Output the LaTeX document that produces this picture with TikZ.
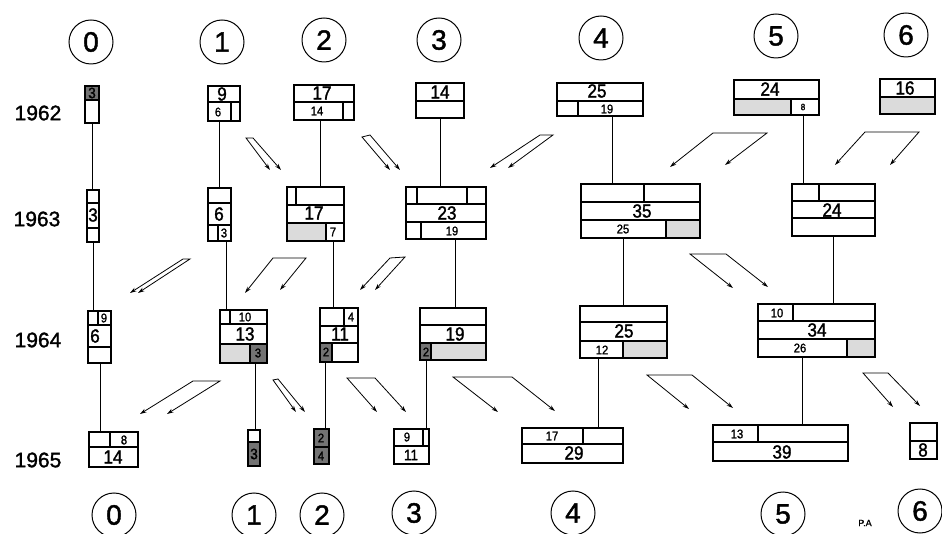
\documentclass[tikz,border=0pt]{standalone}
\usepackage{fontspec}
\setmainfont{Liberation Sans}
\newfontfamily\din{Liberation Sans}[FakeBold=1.5]
\newfontfamily\dinc{Liberation Sans}[FakeBold=1.5, FakeStretch=0.9]
\usetikzlibrary{arrows.meta}
\tikzset{
  box/.style={draw, line width=1.7pt, inner sep=0pt, outer sep=0pt, anchor=north west},
  div/.style={line width=1.1pt},
  link/.style={line width=0.8pt},
  pair/.style={line width=0.8pt, {Stealth[length=6.5pt,width=4pt]}-{Stealth[length=6.5pt,width=4pt]}},
  big/.style={inner sep=0pt, font=\dinc\fontsize{19}{19}\selectfont},
  mid/.style={inner sep=0pt, font=\dinc\fontsize{15}{15}\selectfont},
  small/.style={inner sep=0pt, font=\dinc\fontsize{12.5}{12.5}\selectfont},
  tiny/.style={inner sep=0pt, font=\dinc\fontsize{9}{9}\selectfont},
  colno/.style={draw, circle, line width=1pt, minimum size=44pt, inner sep=0pt, font=\din\fontsize{28}{28}\selectfont},
  year/.style={inner sep=0pt, font=\din\fontsize{21}{21}\selectfont},
  lite/.style={fill=black!14},
  dark/.style={fill=black!55},
}
% a framed cell block: name, left, top, right, bottom
\newcommand\bx[5]{\node[box, minimum width={(#4-#2)*1pt}, minimum height={(#5-#3)*1pt}] (#1) at (#2,#3) {};}
\begin{document}
\begin{tikzpicture}[x=1pt, y=-1pt]
\useasboundingbox (0,0) rectangle (942,534);

% column numbers
\foreach \n/\x/\y in {0/91/42, 1/222/42, 2/324/40, 3/439/40, 4/601/38, 5/776/36, 6/906/35}
  \node[colno] (top\n) at (\x,\y) {\n};
\foreach \n/\x/\y in {0/114/515, 1/254/515, 2/322/515, 3/414/513, 4/573/513, 5/783/514, 6/920/511}
  \node[colno] (bot\n) at (\x,\y) {\n};

% years
\node[year] (y62) at (38,113) {1962};
\node[year] (y63) at (37,219) {1963};
\node[year] (y64) at (38,340) {1964};
\node[year] (y65) at (38,460) {1965};

% shaded cells
\fill[dark] (85,86) rectangle (99,100);
\fill[lite] (220,344) rectangle (250,363);
\fill[dark] (250,344) rectangle (267,363);
\fill[dark] (248,442) rectangle (260,466);
\fill[lite] (287,223) rectangle (326,241);
\fill[dark] (320,343) rectangle (332,362);
\fill[dark] (314,429) rectangle (329,464);
\fill[lite] (431,343) rectangle (486,360);
\fill[dark] (420,343) rectangle (431,360);
\fill[lite] (666,220) rectangle (700,238);
\fill[lite] (623,341) rectangle (667,358);
\fill[lite] (734,99) rectangle (791,115);
\fill[lite] (847,339) rectangle (875,357);
\fill[lite] (880,97) rectangle (935,114);

% column 0
\bx{a0}{85}{86}{99}{123}
\draw[div] (85,100) -- (99,100);
\node[mid] (a0n) at (92,93) {3};
\bx{b0}{87}{190}{99}{242}
\draw[div] (87,203) -- (99,203) (87,228) -- (99,228);
\node[big] (b0n) at (93,215) {3};
\bx{c0}{88}{311}{111}{363}
\draw[div] (88,325) -- (111,325) (88,347) -- (111,347) (98,311) -- (98,325);
\node[small] (c0n1) at (104,318) {9};
\node[big] (c0n2) at (95,336) {6};
\bx{d0}{89}{432}{138}{467}
\draw[div] (89,447) -- (138,447) (110,432) -- (110,447);
\node[small] (d0n1) at (124,440) {8};
\node[big] (d0n2) at (113,457) {14};

% column 1
\bx{a1}{208}{86}{240}{121}
\draw[div] (208,102) -- (240,102) (231,102) -- (231,121);
\node[big] (a1n1) at (222,94) {9};
\node[small] (a1n2) at (218,112) {6};
\bx{b1}{208}{188}{231}{241}
\draw[div] (208,203) -- (231,203) (208,225) -- (231,225) (218,225) -- (218,241);
\node[big] (b1n1) at (219,214) {6};
\node[small] (b1n2) at (224,233) {3};
\bx{c1}{220}{310}{267}{363}
\draw[div] (220,324) -- (267,324) (220,344) -- (267,344) (230,310) -- (230,324) (250,344) -- (250,363);
\node[small] (c1n1) at (245,317) {10};
\node[big] (c1n2) at (245,334) {13};
\node[small] (c1n3) at (258,353) {3};
\bx{d1}{248}{430}{260}{466}
\draw[div] (248,442) -- (260,442);
\node[mid] (d1n) at (254,454) {3};

% column 2
\bx{a2}{294}{85}{354}{120}
\draw[div] (294,102) -- (354,102) (343,102) -- (343,120);
\node[big] (a2n1) at (322,93) {17};
\node[small] (a2n2) at (317,111) {14};
\bx{b2}{287}{187}{344}{241}
\draw[div] (287,205) -- (344,205) (287,223) -- (344,223) (296,187) -- (296,205) (326,223) -- (326,241);
\node[big] (b2n1) at (314,213) {17};
\node[small] (b2n2) at (333,232) {7};
\bx{c2}{320}{308}{358}{362}
\draw[div] (320,326) -- (358,326) (320,343) -- (358,343) (344,308) -- (344,326) (332,343) -- (332,362);
\node[small] (c2n1) at (351,317) {4};
\node[big] (c2n2) at (340,334) {11};
\node[small] (c2n3) at (326,352) {2};
\bx{d2}{314}{429}{329}{464}
\draw[div] (314,447) -- (329,447);
\node[small] (d2n1) at (321,438) {2};
\node[small] (d2n2) at (321,456) {4};

% column 3
\bx{a3}{416}{83}{464}{118}
\draw[div] (416,101) -- (464,101);
\node[big] (a3n) at (440,92) {14};
\bx{b3}{406}{187}{486}{239}
\draw[div] (406,204) -- (486,204) (406,222) -- (486,222) (417,187) -- (417,204) (467,187) -- (467,204) (421,222) -- (421,239);
\node[big] (b3n1) at (447,213) {23};
\node[small] (b3n2) at (452,231) {19};
\bx{c3}{420}{308}{486}{360}
\draw[div] (420,325) -- (486,325) (420,343) -- (486,343) (431,343) -- (431,360);
\node[big] (c3n1) at (455,334) {19};
\node[small] (c3n2) at (426,352) {2};
\bx{d3}{394}{429}{429}{464}
\draw[div] (394,446) -- (429,446) (423,429) -- (423,446);
\node[small] (d3n1) at (407,437) {9};
\node[mid] (d3n2) at (411,455) {11};

% column 4
\bx{a4}{557}{83}{643}{116}
\draw[div] (557,101) -- (643,101) (578,101) -- (578,116);
\node[big] (a4n1) at (597,91) {25};
\node[small] (a4n2) at (607,109) {19};
\bx{b4}{581}{184}{700}{238}
\draw[div] (581,202) -- (700,202) (581,220) -- (700,220) (644,184) -- (644,202) (666,220) -- (666,238);
\node[big] (b4n1) at (642,211) {35};
\node[small] (b4n2) at (623,229) {25};
\bx{c4}{580}{306}{667}{358}
\draw[div] (580,322) -- (667,322) (580,341) -- (667,341) (623,341) -- (623,358);
\node[big] (c4n1) at (624,331) {25};
\node[small] (c4n2) at (602,350) {12};
\bx{d4}{522}{428}{623}{463}
\draw[div] (522,444) -- (623,444) (583,428) -- (583,444);
\node[small] (d4n1) at (552,436) {17};
\node[big] (d4n2) at (574,453) {29};

% column 5
\bx{a5}{734}{80}{819}{115}
\draw[div] (734,99) -- (819,99) (791,99) -- (791,115);
\node[big] (a5n1) at (770,89) {24};
\node[tiny] (a5n2) at (803,107) {8};
\bx{b5}{792}{184}{875}{236}
\draw[div] (792,201) -- (875,201) (792,218) -- (875,218) (819,184) -- (819,201);
\node[big] (b5n) at (832,210) {24};
\bx{c5}{758}{304}{875}{357}
\draw[div] (758,321) -- (875,321) (758,339) -- (875,339) (793,304) -- (793,321) (847,339) -- (847,357);
\node[small] (c5n1) at (777,313) {10};
\node[big] (c5n2) at (817,330) {34};
\node[small] (c5n3) at (800,348) {26};
\bx{d5}{713}{425}{848}{461}
\draw[div] (713,442) -- (848,442) (758,425) -- (758,442);
\node[small] (d5n1) at (737,434) {13};
\node[big] (d5n2) at (782,452) {39};

% column 6
\bx{a6}{880}{79}{935}{114}
\draw[div] (880,97) -- (935,97);
\node[big] (a6n) at (905,88) {16};
\bx{d6}{910}{423}{937}{459}
\draw[div] (910,441) -- (937,441);
\node[big] (d6n) at (923,450) {8};

% year-to-year links within each column
\foreach \p/\q/\x in {a0/b0/92, b0/c0/93, c0/d0/100,
                      a1/b1/219, b1/c1/226, c1/d1/255,
                      a2/b2/320, b2/c2/333, c2/d2/325,
                      a3/b3/440, b3/c3/455, c3/d3/426,
                      a4/b4/612, b4/c4/623, c4/d4/598,
                      a5/b5/803, b5/c5/833, c5/d5/802}
  \draw[link] (\p.south -| \x,0) -- (\q.north -| \x,0);

% transfer arrow pairs
\draw[pair] (270,170) -- (246,138) -- (253,138) -- (281,170);
\draw[pair] (390,170) -- (362,137) -- (370,135) -- (400,170);
\draw[pair] (490,168) -- (540,135) -- (553,135) -- (508,168);
\draw[pair] (670,167) -- (713,133) -- (767,133) -- (725,165);
\draw[pair] (835,165) -- (865,132) -- (919,132) -- (890,165);

\draw[pair] (130,293) -- (183,259) -- (190,259) -- (138,293);
\draw[pair] (245,293) -- (273,258) -- (306,258) -- (280,290);
\draw[pair] (360,290) -- (390,258) -- (405,257) -- (375,290);
\draw[pair] (733,288) -- (690,254) -- (726,254) -- (768,287);

\draw[pair] (140,414) -- (193,381) -- (220,381) -- (167,414);
\draw[pair] (296,412) -- (273,380) -- (278,379) -- (305,412);
\draw[pair] (377,412) -- (347,378) -- (375,378) -- (406,412);
\draw[pair] (498,412) -- (453,377) -- (512,377) -- (555,411);
\draw[pair] (689,409) -- (647,375) -- (692,375) -- (733,408);
\draw[pair] (893,407) -- (863,373) -- (888,373) -- (920,406);

\node[inner sep=0pt, font=\din\fontsize{9}{9}\selectfont] (sig) at (865,523) {P.A};
\end{tikzpicture}
\end{document}
